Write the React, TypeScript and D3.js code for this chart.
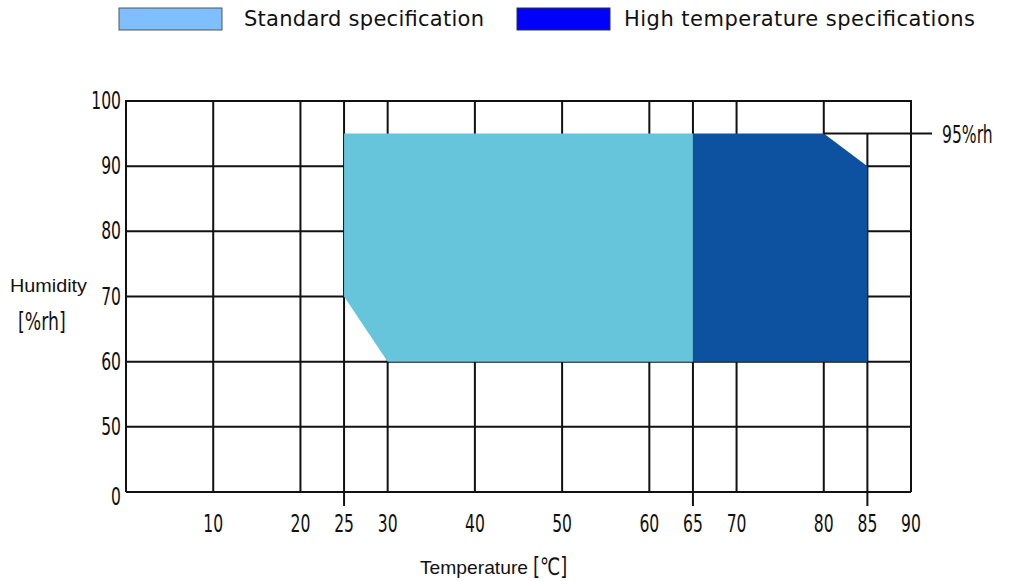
import * as d3 from "d3";

// x ticks (temperature, °C) and y ticks (humidity, %rh; the "0" sits on a broken axis)
const xTicks = [10, 20, 25, 30, 40, 50, 60, 65, 70, 80, 85, 90];
const xLongTicks = [25, 65, 85];
const yTickLabels = [0, 50, 60, 70, 80, 90, 100];
const yBreakValue = 40; // where "0" is placed on the compressed axis

// envelope outlines [temp, humidity]
const standardArea: [number, number][] = [
  [25, 95],
  [65, 95],
  [65, 60],
  [30, 60],
  [25, 70],
];
const highTempArea: [number, number][] = [
  [65, 95],
  [80, 95],
  [85, 90],
  [85, 60],
  [65, 60],
];
const limitHumidity = 95;

const legendItems = [
  { label: "Standard specification", color: "#80BFFF" },
  { label: "High temperature specifications", color: "#0000FF" },
];

const W = 1013;
const H = 581;
const margin = { left: 126, right: 102, top: 101, bottom: 89 };
const font = "'DejaVu Sans', sans-serif";
const plain = "'Liberation Sans', Arial, sans-serif";

// condensed gothic-looking text: squeeze DejaVu horizontally
function Narrow({
  x,
  y,
  anchor = "start",
  size = 24,
  squeeze = 0.65,
  children,
}: {
  x: number;
  y: number;
  anchor?: string;
  size?: number;
  squeeze?: number;
  children: any;
}) {
  return (
    <g transform={`translate(${x},${y}) scale(${squeeze},1)`}>
      <text textAnchor={anchor} fontFamily={font} fontSize={size} fill="#111">
        {children}
      </text>
    </g>
  );
}

export default function App() {
  const x = d3.scaleLinear().domain([0, 90]).range([margin.left, W - margin.right]);
  const y = d3.scaleLinear().domain([yBreakValue, 100]).range([H - margin.bottom, margin.top]);
  const yPos = (v: number) => y(v === 0 ? yBreakValue : v);
  const line = d3.line<[number, number]>().x((d) => x(d[0])).y((d) => y(d[1]));
  const polygon = (pts: [number, number][]) => line(pts) + "Z";
  const [x0, x1] = x.range();
  const yBottom = y(yBreakValue);
  const yTop = y(100);

  return (
    <svg width={W} height={H} style={{ position: "absolute", left: 0, top: 0, background: "#fff" }}>
      {/* legend */}
      <rect x={119} y={8} width={103} height={22} fill={legendItems[0].color} stroke="#555" strokeWidth={1} />
      <text x={244} y={26} fontFamily={font} fontSize={21} fill="#111" textLength={240} lengthAdjust="spacing">
        {legendItems[0].label}
      </text>
      <rect x={517} y={8} width={93} height={22} fill={legendItems[1].color} stroke="#333" strokeWidth={1} />
      <text x={624} y={26} fontFamily={font} fontSize={21} fill="#111" textLength={351} lengthAdjust="spacing">
        {legendItems[1].label}
      </text>

      {/* horizontal grid */}
      {yTickLabels.map((v) => (
        <line key={"h" + v} x1={x0} x2={x1} y1={yPos(v)} y2={yPos(v)} stroke="#111" strokeWidth={2} />
      ))}
      {/* vertical grid */}
      {xTicks.map((v) => (
        <line
          key={"v" + v}
          x1={x(v)}
          x2={x(v)}
          y1={v === 85 ? y(limitHumidity) : yTop}
          y2={xLongTicks.includes(v) ? yBottom + 14 : yBottom}
          stroke="#111"
          strokeWidth={2}
        />
      ))}
      <line x1={x0} x2={x0} y1={yTop} y2={yBottom} stroke="#111" strokeWidth={2} />
      <line x1={x0 - 1} x2={x1 + 1} y1={yTop} y2={yTop} stroke="#111" strokeWidth={2} />

      {/* envelopes */}
      <path d={polygon(standardArea)} fill="#66C4DB" />
      <path d={polygon(highTempArea)} fill="#0C52A0" />

      {/* 95%rh marker */}
      <line x1={x(80)} x2={932} y1={y(limitHumidity)} y2={y(limitHumidity)} stroke="#111" strokeWidth={2} />
      <Narrow x={942} y={y(limitHumidity) + 9}>95%rh</Narrow>

      {/* y tick labels */}
      {yTickLabels.map((v) => (
        <Narrow key={"yl" + v} x={x0 - 5} y={yPos(v) + (v === 0 ? 13 : 8)} anchor="end">
          {v}
        </Narrow>
      ))}
      {/* x tick labels */}
      {xTicks.map((v) => (
        <Narrow key={"xl" + v} x={x(v)} y={yBottom + 40} anchor="middle">
          {v}
        </Narrow>
      ))}

      {/* axis titles */}
      <text x={10} y={292} fontFamily={plain} fontSize={19} fill="#111" textLength={77} lengthAdjust="spacingAndGlyphs">
        Humidity
      </text>
      <Narrow x={18} y={330} squeeze={0.72}>
        [%rh]
      </Narrow>
      <text x={420} y={574} fontFamily={plain} fontSize={19} fill="#111" textLength={108} lengthAdjust="spacingAndGlyphs">
        Temperature
      </text>
      <Narrow x={533} y={575} squeeze={0.75}>
        [℃]
      </Narrow>
    </svg>
  );
}
